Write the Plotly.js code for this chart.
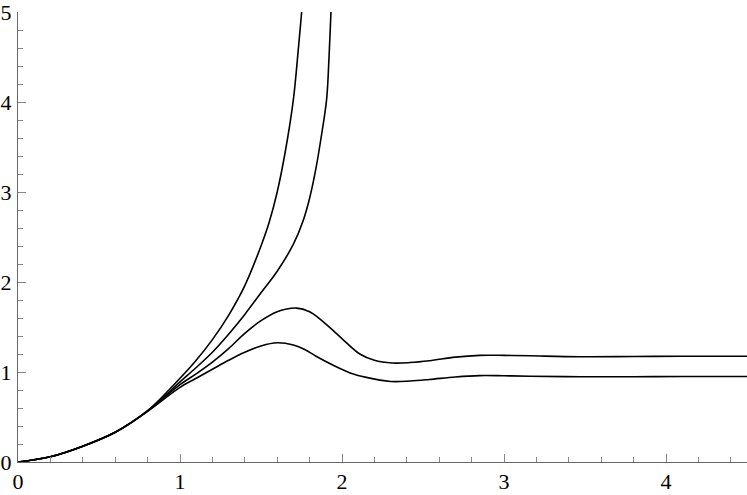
<!DOCTYPE html>
<html>
<head>
<meta charset="utf-8">
<script src="https://cdn.plot.ly/plotly-3.0.1.min.js"></script>
<style>html,body{margin:0;padding:0;background:#fff;}#chart{width:747px;height:495px;}</style>
</head>
<body>
<div id="chart"></div>
<script>
// Curve A (leftmost, diverges first)
const xA = [0, 0.2, 0.4, 0.6, 0.8, 1.0, 1.1, 1.2, 1.3, 1.4, 1.5, 1.55, 1.6, 1.65, 1.7, 1.73, 1.751, 1.77];
const yA = [0, 0.058, 0.175, 0.33, 0.57, 0.93, 1.13, 1.36, 1.63, 1.96, 2.4, 2.66, 3.0, 3.45, 4.03, 4.58, 5.0, 5.4];
// Curve B (second, diverges)
const xB = [0, 0.2, 0.4, 0.6, 0.8, 1.0, 1.1, 1.2, 1.3, 1.4, 1.5, 1.6, 1.7, 1.76, 1.8, 1.84, 1.875, 1.905, 1.92, 1.932, 1.945];
const yB = [0, 0.058, 0.175, 0.33, 0.567, 0.89, 1.05, 1.22, 1.42, 1.64, 1.88, 2.12, 2.42, 2.68, 2.93, 3.27, 3.65, 4.03, 4.5, 5.0, 5.5];
// Curve C (upper bounded curve)
const xC = [0, 0.2, 0.4, 0.6, 0.8, 1.0, 1.1, 1.2, 1.3, 1.4, 1.5, 1.6, 1.72, 1.8, 1.87, 1.946, 2.03, 2.11, 2.2, 2.31, 2.42, 2.54, 2.7, 2.85, 3.0, 3.16, 3.47, 3.8, 4.1, 4.5];
const yC = [0, 0.058, 0.175, 0.33, 0.565, 0.86, 0.98, 1.11, 1.26, 1.43, 1.57, 1.67, 1.71, 1.67, 1.58, 1.46, 1.32, 1.2, 1.13, 1.1, 1.105, 1.125, 1.165, 1.185, 1.185, 1.18, 1.17, 1.172, 1.175, 1.175];
// Curve D (lower bounded curve)
const xD = [0, 0.2, 0.4, 0.6, 0.8, 1.0, 1.1, 1.2, 1.3, 1.4, 1.5, 1.6, 1.7, 1.77, 1.84, 1.946, 2.05, 2.15, 2.3, 2.42, 2.54, 2.7, 2.85, 3.0, 3.16, 3.47, 3.8, 4.1, 4.5];
const yD = [0, 0.058, 0.175, 0.33, 0.563, 0.83, 0.93, 1.03, 1.13, 1.22, 1.29, 1.325, 1.3, 1.25, 1.175, 1.075, 0.99, 0.94, 0.895, 0.9, 0.917, 0.945, 0.96, 0.958, 0.953, 0.947, 0.948, 0.95, 0.95];

const xTicks = [0, 1, 2, 3, 4];
const yTicks = [0, 1, 2, 3, 4, 5];

function curve(x, y) {
  return {x: x, y: y, type: 'scatter', mode: 'lines',
    line: {color: '#000', width: 1.6, shape: 'spline', smoothing: 1},
    hoverinfo: 'skip', showlegend: false};
}

const axisFont = {family: '"Liberation Serif", "Times New Roman", serif', size: 22, color: '#000'};

const layout = {
  width: 747, height: 495,
  margin: {l: 18, r: 0, t: 12, b: 33, pad: 0},
  paper_bgcolor: '#fff', plot_bgcolor: '#fff',
  showlegend: false,
  xaxis: {
    range: [0, 4.5], showgrid: false, zeroline: false,
    showline: true, linecolor: '#666', linewidth: 1,
    tickmode: 'array', tickvals: xTicks, ticktext: xTicks.map(String),
    ticks: 'inside', ticklen: 8, tickcolor: '#888', tickwidth: 1,
    minor: {dtick: 0.2, ticks: 'inside', ticklen: 5, tickcolor: '#888', tickwidth: 1, showgrid: false},
    tickfont: axisFont, ticklabelstandoff: 0, ticklabeloverflow: 'allow',
    automargin: false, fixedrange: true
  },
  yaxis: {
    range: [0, 5], showgrid: false, zeroline: false,
    showline: true, linecolor: '#666', linewidth: 1,
    tickmode: 'array', tickvals: yTicks, ticktext: yTicks.map(String),
    ticks: 'inside', ticklen: 8, tickcolor: '#888', tickwidth: 1,
    minor: {dtick: 0.2, ticks: 'inside', ticklen: 5, tickcolor: '#888', tickwidth: 1, showgrid: false},
    tickfont: axisFont, ticklabelstandoff: 1, ticklabeloverflow: 'allow',
    automargin: false, fixedrange: true
  }
};

Plotly.newPlot('chart', [curve(xA, yA), curve(xB, yB), curve(xC, yC), curve(xD, yD)], layout, {displayModeBar: false, staticPlot: true});
</script>
</body>
</html>
